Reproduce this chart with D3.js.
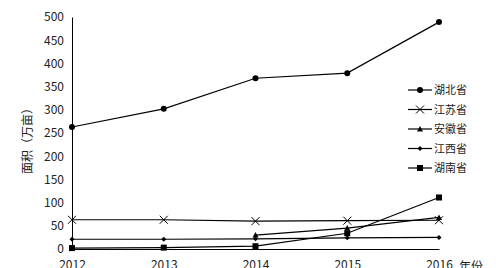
<!DOCTYPE html>
<html>
<head>
<meta charset="utf-8">
<script src="https://cdn.jsdelivr.net/npm/d3@7"></script>
<style>
body { margin: 0; background: #fff; }
text { font-family: "Noto Sans CJK SC", "DejaVu Sans", sans-serif; fill: #222; }
</style>
</head>
<body>
<div id="chart"></div>
<script>
var YEARS = [2012, 2013, 2014, 2015, 2016];
var Y_TICKS = [0, 50, 100, 150, 200, 250, 300, 350, 400, 450, 500];
var NAMES = ['湖北省', '江苏省', '安徽省', '江西省', '湖南省'];
var MARKERS = ['circle', 'cross', 'triangle', 'diamond', 'square'];

var hubei   = [263, 302, 368, 379, 489];
var jiangsu = [63, 63, 60, 61, 62];
var anhui   = [null, null, 30, 45, 68];
var jiangxi = [21, 21, 22, 24, 25];
var hunan   = [2, 3, 6, 34, 111];
var SERIES = [hubei, jiangsu, anhui, jiangxi, hunan];

var WIDTH = 496, HEIGHT = 268;
var margin = { top: 17, left: 72, bottom: 19, right: 57 };

var sx = d3.scalePoint()
    .domain(YEARS)
    .range([0, WIDTH - margin.left - margin.right]);
var sy = d3.scaleLinear()
    .domain([0, 500])
    .range([HEIGHT - margin.top - margin.bottom, 0]);

var svg = d3.select('#chart').append('svg')
    .attr('width', WIDTH)
    .attr('height', HEIGHT);

var g = svg.append('g')
    .attr('transform', 'translate(' + margin.left + ', ' + margin.top + ')');

var ay = d3.axisLeft(sy).tickValues(Y_TICKS).tickSize(0).tickPadding(8);
var ax = d3.axisBottom(sx).tickSize(0).tickPadding(11);

var gy = g.append('g').call(ay);
var gx = g.append('g')
    .attr('transform', 'translate(0, ' + sy(0) + ')')
    .call(ax);

gy.select('.domain').attr('stroke', '#000');
gx.select('.domain').attr('stroke', '#000');
gy.selectAll('text').style('font-size', '12px').attr('fill', '#333');
gx.selectAll('text').style('font-size', '12px').attr('fill', '#333');

g.append('text')
    .attr('x', sx(2016) + 20)
    .attr('y', sy(0) + 22)
    .style('font-size', '12px')
    .text('年份');

svg.append('text')
    .attr('transform', 'translate(32, 138) rotate(-90)')
    .attr('text-anchor', 'middle')
    .style('font-size', '12px')
    .text('面积（万亩）');

function marker(sel, type) {
    if (type == 'circle') {
        sel.append('circle').attr('r', 3).attr('fill', '#000');
    } else if (type == 'cross') {
        sel.append('path').attr('d', 'M-4,-4L4,4M-4,4L4,-4').attr('stroke', '#000').attr('stroke-width', 1);
    } else if (type == 'triangle') {
        sel.append('path').attr('d', 'M0,-3L3,2.5L-3,2.5Z').attr('fill', '#000');
    } else if (type == 'diamond') {
        sel.append('path').attr('d', 'M0,-2.5L2.5,0L0,2.5L-2.5,0Z').attr('fill', '#000');
    } else {
        sel.append('rect').attr('x', -3).attr('y', -3).attr('width', 6).attr('height', 6).attr('fill', '#000');
    }
}

var line = d3.line()
    .defined(function(d) { return d != null; })
    .x(function(d, i) { return sx(YEARS[i]); })
    .y(function(d) { return sy(d); });

for (var i = 0; i < SERIES.length; i++) {
    var s = SERIES[i];
    g.append('path')
        .attr('d', line(s))
        .attr('fill', 'none')
        .attr('stroke', '#000')
        .attr('stroke-width', 1.2);
    for (var j = 0; j < s.length; j++) {
        if (s[j] == null) continue;
        var m = g.append('g')
            .attr('transform', 'translate(' + sx(YEARS[j]) + ',' + sy(s[j]) + ')');
        marker(m, MARKERS[i]);
    }
}

var legend = svg.append('g').attr('transform', 'translate(408, 90)');
for (var i = 0; i < NAMES.length; i++) {
    var row = legend.append('g').attr('transform', 'translate(0,' + (i * 19.5) + ')');
    row.append('line').attr('x1', 0).attr('x2', 24).attr('stroke', '#000').attr('stroke-width', 1.2);
    marker(row.append('g').attr('transform', 'translate(12,0)'), MARKERS[i]);
    row.append('text')
        .attr('x', 26)
        .attr('y', 4)
        .style('font-size', '11px')
        .text(NAMES[i]);
}
</script>
</body>
</html>
